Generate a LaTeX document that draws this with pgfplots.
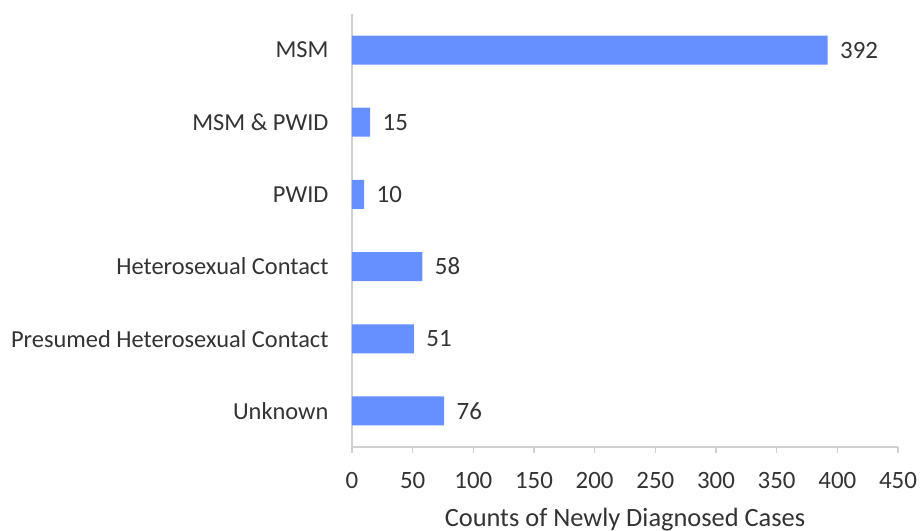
\documentclass[border=0pt]{standalone}
\usepackage{pgfplots}
\pgfplotsset{compat=1.18}
\usepackage{fontspec}
\setmainfont{Carlito}
\definecolor{barblue}{HTML}{6690FF}
\definecolor{txt}{HTML}{333333}
\definecolor{axgray}{HTML}{D0D0D0}
\begin{document}
\begin{tikzpicture}[x=1bp,y=1bp]
\useasboundingbox (-352,-84) rectangle (568,447);
\begin{axis}[
  at={(0,0)}, anchor=south west,
  scale only axis,
  width=546bp, height=433bp,
  xbar, bar width=29bp,
  xmin=0, xmax=450,
  xtick={0,50,...,450},
  ymin=-0.5, ymax=5.5,
  y dir=reverse,
  ytick={0,1,2,3,4,5},
  yticklabels={MSM, MSM \& PWID, PWID, Heterosexual Contact, Presumed Heterosexual Contact, Unknown},
  axis x line*=bottom,
  axis y line*=left,
  axis line style={axgray, line width=1.2bp},
  x axis line style={-},
  y axis line style={-},
  xtick style={axgray, line width=1.2bp},
  major tick length=6bp,
  tick align=outside,
  ytick style={draw=none},
  /pgf/number format/assume math mode=true,
  ticklabel style={font=\fontsize{24.5}{29}\selectfont, text=txt},
  yticklabel style={xshift=-14bp},
  xticklabel style={yshift=-16bp, font=\fontsize{25}{29}\selectfont},
  xlabel={Counts of Newly Diagnosed Cases},
  xlabel style={font=\fontsize{26.5}{31}\selectfont, text=txt, yshift=-12bp},
  nodes near coords,
  every node near coord/.append style={font=\fontsize{25}{29}\selectfont, text=txt, anchor=west, xshift=9bp},
  clip=false,
]
\addplot[fill=barblue, draw=none] coordinates {
 (392,0) (15,1) (10,2) (58,3) (51,4) (76,5)
};
\end{axis}
\end{tikzpicture}
\end{document}
